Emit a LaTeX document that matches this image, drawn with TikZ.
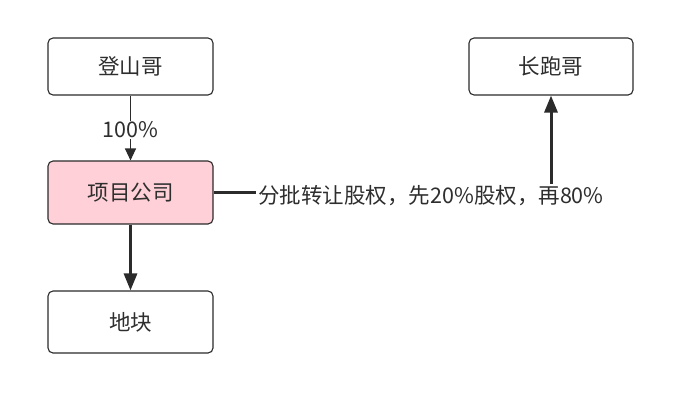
\documentclass[tikz,border=0pt]{standalone}
\usepackage{fontspec}
\setmainfont{Noto Sans CJK SC}
\usetikzlibrary{arrows.meta}
\definecolor{ink}{HTML}{2B2B2B}
\definecolor{txt}{HTML}{2E2E2E}
\definecolor{pinkfill}{HTML}{FFD0D7}
\tikzset{
  box/.style={draw=ink, line width=1.1pt, rounded corners=5pt, fill=white,
    minimum width=165pt, inner sep=0pt, text=txt, font=\fontsize{21.5}{25}\selectfont},
  thinarrow/.style={draw=ink, line width=1.1pt, -{Triangle[length=12pt,width=11pt]}},
  thickarrow/.style={draw=ink, line width=3pt, -{Triangle[length=17pt,width=13pt]}},
  lbl/.style={fill=white, text=txt, inner sep=1pt, font=\fontsize{21.5}{25}\selectfont}
}
\begin{document}
\begin{tikzpicture}[x=1pt,y=-1pt]
\useasboundingbox (0,0) rectangle (684,405);
\node[box, minimum height=57pt] (dsg) at (130.5,66.5) {登山哥};
\node[box, minimum height=63pt, fill=pinkfill] (xmgs) at (130.5,192.5) {项目公司};
\node[box, minimum height=62pt] (dk) at (130.5,322) {地块};
\node[box, minimum height=57pt, minimum width=164pt] (cpg) at (551,66.5) {长跑哥};
\draw[thinarrow] (dsg) -- node[lbl, pos=0.53] (p100) {100\%} (xmgs);
\draw[thickarrow] (xmgs) -- (dk);
\coordinate (corner) at (cpg.south |- xmgs.east);
\draw[thickarrow] (xmgs.east) -- (corner) -- (cpg.south);
\node[lbl, inner sep=2pt] (tl) at (431,196) {分批转让股权，先20\%股权，再80\%};
\end{tikzpicture}
\end{document}
